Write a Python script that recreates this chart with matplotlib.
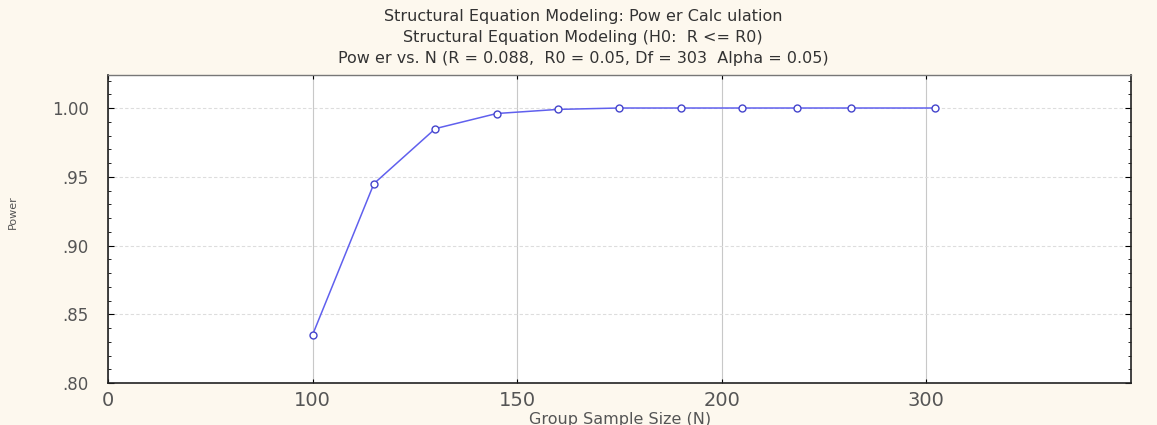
import numpy as np
import matplotlib
matplotlib.use("Agg")
import matplotlib.pyplot as plt
from matplotlib.ticker import FixedLocator, MultipleLocator

# Power curve
sample_n = [100, 115, 130, 145, 160, 175, 190, 210, 237, 263, 304]
power = [0.835, 0.945, 0.985, 0.996, 0.999, 1.0, 1.0, 1.0, 1.0, 1.0, 1.0]

x_ticks = [0, 100, 150, 200, 300]
y_ticks = [0.80, 0.85, 0.90, 0.95, 1.00]
y_tick_labels = [".80", ".85", ".90", ".95", "1.00"]

title_lines = [
    "Structural Equation Modeling: Pow er Calc ulation",
    "Structural Equation Modeling (H0:  R <= R0)",
    "Pow er vs. N (R = 0.088,  R0 = 0.05, Df = 303  Alpha = 0.05)",
]

# the x axis in the original is piecewise: labelled ticks are equally spaced
scale_n = [0, 100, 150, 200, 300, 400]
scale_pos = [0, 1, 2, 3, 4, 5]


def fwd(x):
    return np.interp(x, scale_n, scale_pos)


def inv(x):
    return np.interp(x, scale_pos, scale_n)


# wide font, the original screenshot is stretched sideways
plt.rcParams["font.family"] = ["DejaVu Sans"]

bg = "#fdf8ee"
txt = "#555555"
fig = plt.figure(figsize=(11.57, 4.25), dpi=100, facecolor=bg)
ax = fig.add_axes([0.0933, 0.0988, 0.8842, 0.7247])
ax.set_facecolor("white")

ax.set_xscale("function", functions=(fwd, inv))
ax.set_xlim(0, 400)
ax.set_ylim(0.80, 1.024)

ax.plot(sample_n, power, color="#6060ee", lw=1.1, marker="o", ms=5,
        mfc="white", mec="#4444cc", mew=1.0, zorder=3)

ax.xaxis.set_major_locator(FixedLocator(x_ticks))
ax.set_xticklabels([str(t) for t in x_ticks])
ax.set_yticks(y_ticks)
ax.set_yticklabels(y_tick_labels)
ax.yaxis.set_minor_locator(MultipleLocator(0.01))

ax.tick_params(axis="x", which="major", direction="in", length=3,
               top=True, labelsize=14, labelcolor=txt, pad=6)
ax.tick_params(axis="y", which="major", direction="in", length=4,
               right=True, labelsize=12, labelcolor=txt, pad=14)
ax.tick_params(axis="y", which="minor", direction="in", length=2, right=True)
ax.tick_params(axis="x", which="minor", bottom=False, top=False)

ax.grid(axis="x", color="#c8c8c8", lw=0.8, ls="-")
ax.grid(axis="y", which="major", color="#dddddd", lw=0.8, ls=(0, (3, 2)))

for side in ["left", "right", "bottom"]:
    ax.spines[side].set_color("#222222")
    ax.spines[side].set_linewidth(1.2)
ax.spines["top"].set_color("#777777")
ax.spines["top"].set_linewidth(1.0)

for i, line in enumerate(title_lines):
    fig.text(0.504, 0.962 - i * 0.05, line, ha="center", va="center",
             fontsize=11.5, color="#333333")

fig.text(0.536, 0.014, "Group Sample Size (N)", ha="center", va="center",
         fontsize=11.5, color=txt)
fig.text(0.011, 0.50, "Power", ha="center", va="center", rotation=90,
         fontsize=8, color=txt)

fig.savefig("out.png", dpi=100, facecolor=bg)
